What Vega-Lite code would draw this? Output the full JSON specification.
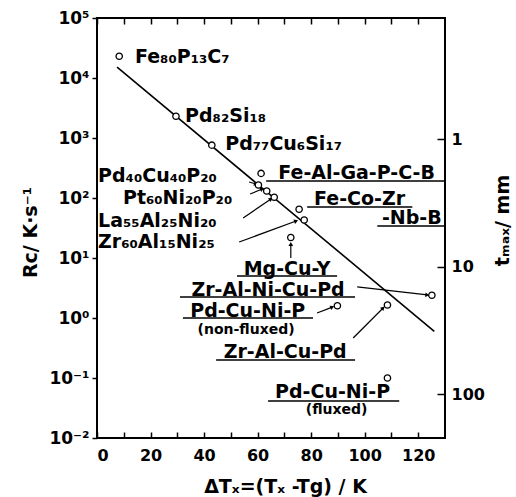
{
  "$schema": "https://vega.github.io/schema/vega-lite/v6.json",
  "width": 348,
  "height": 420,
  "autosize": {"type": "none"},
  "padding": {"left": 97, "top": 18, "right": 71, "bottom": 59},
  "background": "white",
  "config": {
    "view": {"stroke": "black", "strokeWidth": 2},
    "font": "DejaVu Sans",
    "axis": {
      "labelFont": "DejaVu Sans", "labelFontWeight": "bold", "labelFontSize": 16, "labelColor": "black",
      "titleFont": "DejaVu Sans", "titleFontWeight": "bold", "titleFontSize": 19, "titleColor": "black",
      "tickColor": "black", "tickWidth": 1.5, "domain": false, "grid": false,
      "gridColor": "black", "gridWidth": 1.5, "gridOpacity": 1
    },
    "text": {"font": "DejaVu Sans", "fontWeight": "bold", "color": "black"}
  },
  "datasets": {
    "points": [
      {"alloy": "Fe80P13C7", "dtx": 8.3, "rc": 23000},
      {"alloy": "Pd82Si18", "dtx": 29.5, "rc": 2300},
      {"alloy": "Pd77Cu6Si17", "dtx": 42.9, "rc": 760},
      {"alloy": "Pd40Cu40P20", "dtx": 60.3, "rc": 165},
      {"alloy": "Fe-Al-Ga-P-C-B", "dtx": 61.3, "rc": 257},
      {"alloy": "Pt60Ni20P20", "dtx": 63.4, "rc": 131},
      {"alloy": "La55Al25Ni20", "dtx": 66.2, "rc": 103},
      {"alloy": "Mg-Cu-Y", "dtx": 72.4, "rc": 22},
      {"alloy": "Fe-Co-Zr-Nb-B", "dtx": 75.5, "rc": 65},
      {"alloy": "Zr60Al15Ni25", "dtx": 77.4, "rc": 43},
      {"alloy": "Pd-Cu-Ni-P (non-fluxed)", "dtx": 89.8, "rc": 1.6},
      {"alloy": "Zr-Al-Cu-Pd", "dtx": 108.5, "rc": 1.65},
      {"alloy": "Zr-Al-Ni-Cu-Pd", "dtx": 125.1, "rc": 2.4},
      {"alloy": "Pd-Cu-Ni-P (fluxed)", "dtx": 108.5, "rc": 0.1}
    ],
    "fit": [
      {"dtx": 7.5, "rc": 15136},
      {"dtx": 126, "rc": 0.6}
    ],
    "arrows": [
      {"x1": 56.8, "y1": 185, "x2": 59.4, "y2": 171},
      {"x1": 57.2, "y1": 116.6, "x2": 61.7, "y2": 141},
      {"x1": 54.6, "y1": 46.4, "x2": 65.0, "y2": 96.3},
      {"x1": 53.1, "y1": 18.5, "x2": 74.4, "y2": 41.4},
      {"x1": 72.4, "y1": 10, "x2": 72.4, "y2": 17.1},
      {"x1": 97.2, "y1": 3.29, "x2": 123.4, "y2": 2.42},
      {"x1": 82.2, "y1": 1.21, "x2": 87.9, "y2": 1.52},
      {"x1": 95.7, "y1": 0.464, "x2": 106.9, "y2": 1.47}
    ],
    "underlines": [
      {"x1": 63.2, "x2": 130, "rc": 192},
      {"x1": 78.5, "x2": 117.8, "rc": 70.8},
      {"x1": 104.7, "x2": 130, "rc": 34.2},
      {"x1": 52.3, "x2": 89.7, "rc": 5.01},
      {"x1": 31.0, "x2": 96.4, "rc": 2.24},
      {"x1": 32.1, "x2": 80.7, "rc": 1.0},
      {"x1": 44.5, "x2": 96.4, "rc": 0.2},
      {"x1": 63.9, "x2": 112.9, "rc": 0.0414}
    ],
    "formulas": [
      {"label": "Fe₈₀P₁₃C₇", "dtx": 14.2, "rc": 22400},
      {"label": "Pd₈₂Si₁₈", "dtx": 32.9, "rc": 2326},
      {"label": "Pd₇₇Cu₆Si₁₇", "dtx": 47.9, "rc": 794},
      {"label": "Pd₄₀Cu₄₀P₂₀", "dtx": 0.4, "rc": 232},
      {"label": "Pt₆₀Ni₂₀P₂₀", "dtx": 9.7, "rc": 100},
      {"label": "La₅₅Al₂₅Ni₂₀", "dtx": 0.4, "rc": 41.4},
      {"label": "Zr₆₀Al₁₅Ni₂₅", "dtx": 0.4, "rc": 18.5}
    ],
    "systems": [
      {"label": "Fe-Al-Ga-P-C-B", "dtx": 97.0, "rc": 261},
      {"label": "Fe-Co-Zr", "dtx": 98.1, "rc": 96.3},
      {"label": "-Nb-B", "dtx": 117.6, "rc": 46.4},
      {"label": "Mg-Cu-Y", "dtx": 71.0, "rc": 6.56},
      {"label": "Zr-Al-Ni-Cu-Pd", "dtx": 63.9, "rc": 2.93},
      {"label": "Pd-Cu-Ni-P", "dtx": 56.3, "rc": 1.31},
      {"label": "Zr-Al-Cu-Pd", "dtx": 70.3, "rc": 0.271},
      {"label": "Pd-Cu-Ni-P", "dtx": 88.0, "rc": 0.0584}
    ],
    "notes": [
      {"label": "(non-fluxed)", "dtx": 55.7, "rc": 0.631},
      {"label": "(fluxed)", "dtx": 89.5, "rc": 0.0293}
    ],
    "tmax": [{"t": 1}, {"t": 10}, {"t": 100}]
  },
  "layer": [
    {
      "layer": [
        {
          "data": {"name": "fit"},
          "mark": {"type": "line", "color": "black", "strokeWidth": 1.6},
          "encoding": {
            "x": {
              "field": "dtx", "type": "quantitative",
              "scale": {"domain": [0, 130], "nice": false, "zero": false},
              "axis": {
                "orient": "bottom",
                "values": [0, 20, 40, 60, 80, 100, 120],
                "ticks": false, "labelPadding": 9,
                "title": "ΔTₓ=(Tₓ -Tg) / K", "titleX": 188, "titleY": 48,
                "titleBaseline": "middle", "titleAlign": "center"
              }
            },
            "y": {
              "field": "rc", "type": "quantitative",
              "scale": {"type": "log", "domain": [0.01, 100000], "nice": false},
              "axis": {
                "orient": "left",
                "values": [0.01, 0.1, 1, 10, 100, 1000, 10000, 100000],
                "labelExpr": "'10' + ['⁻²','⁻¹','⁰','¹','²','³','⁴','⁵'][round(log(datum.value)/LN10)+2]",
                "tickSize": 5, "labelPadding": 3, "labelFontSize": 17,
                "title": "Rc/ K·s⁻¹", "titleX": -67, "titleY": 214, "titleAngle": 270,
                "titleBaseline": "middle", "titleAlign": "center"
              }
            }
          }
        },
        {
          "data": {"name": "underlines"},
          "mark": {"type": "rule", "color": "black", "strokeWidth": 1.6},
          "encoding": {
            "x": {"field": "x1", "type": "quantitative"},
            "x2": {"field": "x2"},
            "y": {"field": "rc", "type": "quantitative"}
          }
        },
        {
          "data": {"name": "arrows"},
          "mark": {"type": "rule", "color": "black", "strokeWidth": 1.2},
          "encoding": {
            "x": {"field": "x1", "type": "quantitative"},
            "x2": {"field": "x2"},
            "y": {"field": "y1", "type": "quantitative"},
            "y2": {"field": "y2"}
          }
        },
        {
          "data": {"name": "arrows"},
          "transform": [
            {"calculate": "atan2((datum.x2 - datum.x1) * 2.677, (log(datum.y2) - log(datum.y1)) / LN10 * 60) * 180 / PI", "as": "ang"}
          ],
          "mark": {"type": "point", "shape": "triangle-up", "filled": true, "color": "black", "size": 22, "opacity": 1},
          "encoding": {
            "x": {"field": "x2", "type": "quantitative"},
            "y": {"field": "y2", "type": "quantitative"},
            "angle": {"field": "ang", "type": "quantitative", "scale": null}
          }
        },
        {
          "data": {"name": "points"},
          "mark": {"type": "point", "shape": "circle", "size": 40, "stroke": "black", "strokeWidth": 1.3, "fill": "white", "filled": false, "opacity": 1},
          "encoding": {
            "x": {"field": "dtx", "type": "quantitative"},
            "y": {"field": "rc", "type": "quantitative"}
          }
        },
        {
          "data": {"name": "formulas"},
          "mark": {"type": "text", "align": "left", "baseline": "middle", "fontSize": 19, "fontWeight": "bold"},
          "encoding": {
            "x": {"field": "dtx", "type": "quantitative"},
            "y": {"field": "rc", "type": "quantitative"},
            "text": {"field": "label"}
          }
        },
        {
          "data": {"name": "systems"},
          "mark": {"type": "text", "align": "center", "baseline": "middle", "fontSize": 19, "fontWeight": "bold"},
          "encoding": {
            "x": {"field": "dtx", "type": "quantitative"},
            "y": {"field": "rc", "type": "quantitative"},
            "text": {"field": "label"}
          }
        },
        {
          "data": {"name": "notes"},
          "mark": {"type": "text", "align": "center", "baseline": "middle", "fontSize": 14, "fontWeight": "bold"},
          "encoding": {
            "x": {"field": "dtx", "type": "quantitative"},
            "y": {"field": "rc", "type": "quantitative"},
            "text": {"field": "label"}
          }
        }
      ]
    },
    {
      "data": {"name": "tmax"},
      "mark": {"type": "point", "opacity": 0},
      "encoding": {
        "x": {
          "datum": 0, "type": "quantitative",
          "scale": {"domain": [0, 130], "nice": false, "zero": false},
          "axis": {
            "orient": "top",
            "values": [0, 10, 20, 30, 40, 50, 60, 70, 80, 90, 100, 110, 120],
            "labels": false, "ticks": false, "grid": true, "gridDash": [6, 2000], "title": null
          }
        },
        "y": {
          "field": "t", "type": "quantitative",
          "scale": {"type": "log", "domain": [0.112, 220.6], "reverse": true, "nice": false},
          "axis": {
            "orient": "right",
            "values": [1, 10, 100],
            "labelExpr": "datum.value == 1 ? '1' : datum.value == 10 ? '10' : '100'",
            "ticks": false, "grid": true, "gridDash": [8, 2000], "labelPadding": 6,
            "title": "tₘₐₓ/ mm", "titleX": 57, "titleY": 202, "titleAngle": 270,
            "titleBaseline": "middle", "titleAlign": "center"
          }
        }
      }
    },
    {
      "data": {"values": [{"k": 1}]},
      "mark": {"type": "point", "opacity": 0},
      "encoding": {
        "x": {
          "datum": 0, "type": "quantitative",
          "scale": {"domain": [0, 130], "nice": false, "zero": false},
          "axis": {
            "orient": "bottom",
            "values": [0, 10, 20, 30, 40, 50, 60, 70, 80, 90, 100, 110, 120],
            "labels": false, "ticks": false, "grid": true, "gridDash": [6, 2000], "title": null
          }
        },
        "y": {
          "datum": 0.5, "type": "quantitative",
          "scale": {"domain": [0, 1], "reverse": true, "nice": false, "zero": false},
          "axis": null
        }
      }
    }
  ],
  "resolve": {"scale": {"x": "independent", "y": "independent"}}
}
